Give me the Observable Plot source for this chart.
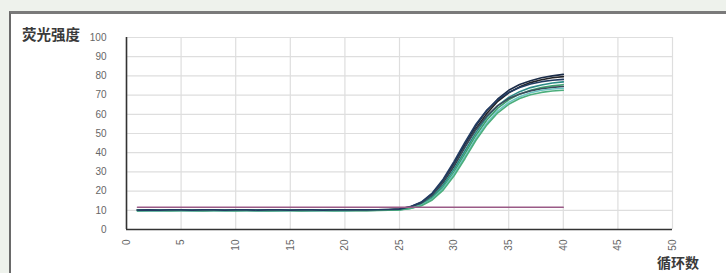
<!DOCTYPE html>
<html>
<head>
<meta charset="utf-8">
<script src="https://cdn.jsdelivr.net/npm/d3@7"></script>
<script src="https://cdn.jsdelivr.net/npm/@observablehq/plot@0.6"></script>
<style>
  html, body { margin: 0; padding: 0; background: #eef2ec; }
  #wrap { position: relative; width: 726px; height: 273px; background: #eef2ec; overflow: hidden; font-family: "Noto Sans CJK SC", "Noto Sans", sans-serif; }
  #frame { position: absolute; left: 9px; top: 11px; width: 740px; height: 280px; background: #fff; border-left: 2px solid #6a6a6a; border-top: 3px solid #7a7a7a; box-sizing: border-box; }
  #chart { position: absolute; left: 0; top: 0; }
  .lbl { position: absolute; color: #3a3a3a; font-weight: 700; font-size: 14px; font-family: "Noto Sans CJK SC", sans-serif; white-space: nowrap; }
</style>
</head>
<body>
<div id="wrap">
  <div id="frame"></div>
  <div id="chart"></div>
  <div class="lbl" style="left:22px; top:23px; font-size:14.5px;">荧光强度</div>
  <div class="lbl" style="left:657px; top:252px;">循环数</div>
</div>
<script>
const cycles = [1,2,3,4,5,6,7,8,9,10,11,12,13,14,15,16,17,18,19,20,21,22,23,24,25,26,27,28,29,30,31,32,33,34,35,36,37,38,39,40];

const curve1 = [10.2,10.1,10.2,10.1,10.0,10.1,10.2,10.1,10.0,10.1,10.1,10.2,10.1,10.0,10.1,10.1,10.2,10.1,10.0,10.1,10.1,10.2,10.2,10.3,10.6,11.8,14.0,18.5,25.5,34.5,44.5,54.0,62.0,68.0,72.5,75.5,77.5,79.0,80.0,80.8];
const curve2 = [10.0,10.1,10.0,10.0,10.1,10.0,9.9,10.0,10.1,10.0,10.0,9.9,10.0,10.1,10.0,9.9,10.0,10.0,10.1,10.0,10.0,10.1,10.1,10.2,10.5,11.5,13.6,17.8,24.5,33.0,43.0,52.5,60.5,66.8,71.2,74.3,76.5,78.0,79.0,79.6];
const curve3 = [9.8,9.9,9.8,9.9,9.9,9.8,9.9,9.9,9.8,9.9,9.9,9.8,9.9,9.8,9.9,9.9,9.8,9.9,9.9,9.8,9.9,9.9,10.0,10.1,10.4,11.3,13.2,17.0,23.2,31.5,41.0,50.5,58.5,64.5,68.8,71.8,73.9,75.3,76.3,76.9];
const curve4 = [9.7,9.8,9.8,9.7,9.8,9.8,9.7,9.8,9.8,9.7,9.8,9.8,9.7,9.8,9.8,9.7,9.8,9.8,9.7,9.8,9.8,9.8,9.9,10.0,10.3,11.1,12.8,16.2,22.0,30.0,39.5,49.0,57.0,63.2,67.5,70.5,72.5,73.9,74.8,75.4];
const curve5 = [10.3,10.2,10.3,10.3,10.2,10.3,10.3,10.2,10.3,10.2,10.3,10.3,10.2,10.3,10.3,10.2,10.3,10.3,10.2,10.3,10.3,10.3,10.3,10.4,10.5,11.6,13.8,18.0,24.8,33.5,43.0,52.0,59.2,64.5,68.2,70.6,72.2,73.3,74.0,74.5];
const curve6 = [9.9,9.9,10.0,9.9,9.9,10.0,9.9,9.9,10.0,9.9,9.9,10.0,9.9,9.9,10.0,9.9,9.9,10.0,9.9,9.9,10.0,10.0,10.0,10.1,10.3,11.0,12.6,15.8,21.2,29.0,38.0,47.5,55.5,61.8,66.2,69.2,71.2,72.5,73.2,73.6];
const curve7 = [10.1,10.0,10.0,10.1,10.0,10.0,10.1,10.0,10.0,10.1,10.0,10.0,10.1,10.0,10.0,10.1,10.0,10.0,10.1,10.0,10.0,10.1,10.1,10.1,10.2,10.9,12.4,15.4,20.5,28.0,37.0,46.5,54.5,60.8,65.2,68.2,70.2,71.4,72.1,72.5];
const curve8 = [10.1,10.2,10.1,10.2,10.2,10.1,10.2,10.2,10.1,10.2,10.2,10.1,10.2,10.2,10.1,10.2,10.2,10.1,10.2,10.2,10.2,10.2,10.3,10.4,10.6,11.9,14.3,19.0,26.2,35.5,45.5,54.8,62.2,67.6,71.4,74.0,75.8,77.0,77.7,78.2];

const seriesNames = ["S1","S2","S3","S4","S5","S6","S7","S8"];
const seriesColors = ["#1b2c48","#222428","#2b8b88","#3ea06e","#3b4b5c","#6cc4c4","#4cae7c","#223c62"];

const thresholdCycles = [1, 40];
const thresholdValues = [11.6, 11.6];

const xTicks = [0,5,10,15,20,25,30,35,40,45,50];
const yTicks = [0,10,20,30,40,50,60,70,80,90,100];

const allCurves = [curve1,curve2,curve3,curve4,curve5,curve6,curve7,curve8];
const rows = [];
allCurves.forEach((vals, i) => vals.forEach((v, j) => rows.push({series: seriesNames[i], cycle: cycles[j], value: v})));
const thresh = thresholdCycles.map((c, i) => ({cycle: c, value: thresholdValues[i]}));

const chart = Plot.plot({
  width: 726,
  height: 273,
  marginLeft: 126,
  marginRight: 54,
  marginTop: 37,
  marginBottom: 44,
  style: {background: "transparent", fontFamily: "Liberation Sans, Arial, sans-serif", fontSize: "10px", color: "#666"},
  x: {domain: [0, 50]},
  y: {domain: [0, 100]},
  color: {domain: seriesNames, range: seriesColors},
  marks: [
    Plot.gridX(xTicks, {stroke: "#dedede", strokeOpacity: 1, strokeWidth: 1.2}),
    Plot.gridY(yTicks, {stroke: "#dedede", strokeOpacity: 1, strokeWidth: 1.2}),
    Plot.axisY(yTicks, {tickSize: 0, tickPadding: 20, label: null, fill: "#666"}),
    Plot.axisX(xTicks, {tickSize: 0, tickPadding: 10, tickRotate: -90, label: null, fill: "#666"}),
    Plot.line(rows, {x: "cycle", y: "value", z: "series", stroke: "series", strokeWidth: 1.6}),
    Plot.line(thresh, {x: "cycle", y: "value", stroke: "#9a5a86", strokeWidth: 1.4}),
    Plot.ruleY([0], {stroke: "#333", strokeWidth: 1.6}),
    Plot.ruleX([0], {stroke: "#333", strokeWidth: 1.6})
  ]
});
document.getElementById("chart").appendChild(chart);
</script>
</body>
</html>
